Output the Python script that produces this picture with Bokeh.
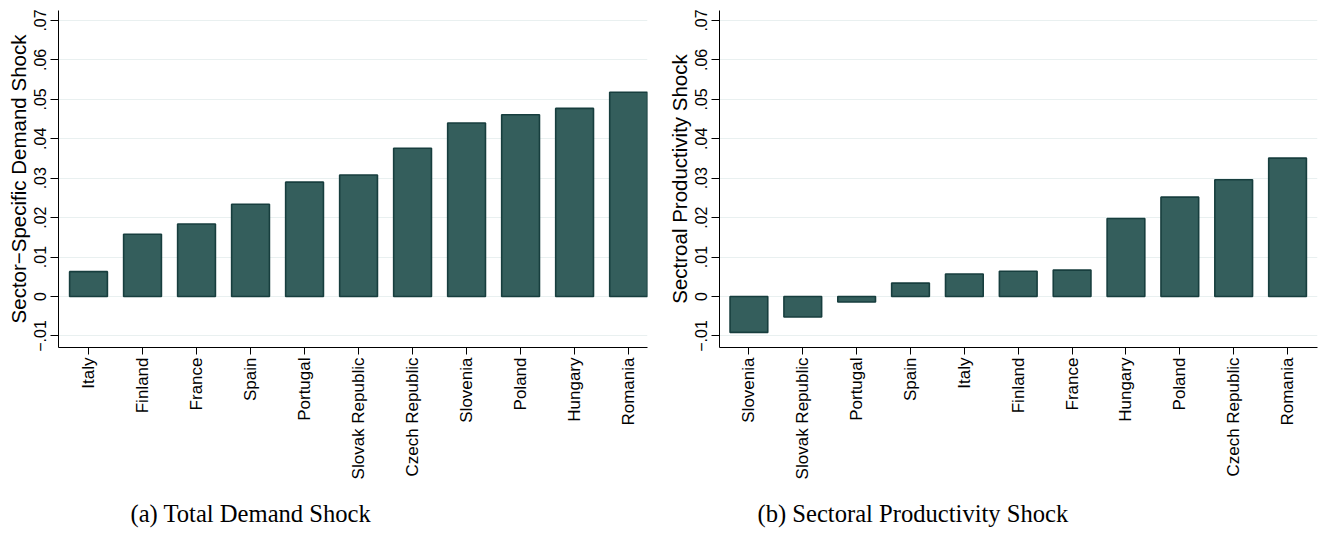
import math
from bokeh.plotting import figure
from bokeh.models import (Range1d, FixedTicker, CustomJSTickFormatter, Title,
                          ColumnDataSource)
from bokeh.layouts import row
from bokeh.embed import file_html
from bokeh.resources import INLINE

# ---- data -------------------------------------------------------------
demand_countries = ["Italy", "Finland", "France", "Spain", "Portugal",
                    "Slovak Republic", "Czech Republic", "Slovenia",
                    "Poland", "Hungary", "Romania"]
demand_values = [0.0063, 0.0158, 0.0184, 0.0234, 0.0290, 0.0308,
                 0.0376, 0.0440, 0.0461, 0.0477, 0.0518]

prod_countries = ["Slovenia", "Slovak Republic", "Portugal", "Spain",
                  "Italy", "Finland", "France", "Hungary", "Poland",
                  "Czech Republic", "Romania"]
prod_values = [-0.0091, -0.0052, -0.0014, 0.0034, 0.0057, 0.0064,
               0.0067, 0.0198, 0.0252, 0.0296, 0.0351]

y_ticks = [-0.01, 0.0, 0.01, 0.02, 0.03, 0.04, 0.05, 0.06, 0.07]

demand_ylabel = "Sector\u2212Specific Demand Shock"
prod_ylabel = "Sectroal Productivity Shock"
demand_caption = "(a) Total Demand Shock"
prod_caption = "(b) Sectoral Productivity Shock"

# ---- styles -----------------------------------------------------------
BAR_FILL = "#345e5c"
BAR_LINE = "#173e3e"
GRID = "#e9f0f0"
SANS = "Liberation Sans"
SERIF = "Liberation Serif"
UP = math.pi / 2

Y_FMT = CustomJSTickFormatter(code="""
    if (Math.abs(tick) < 1e-9) { return "0"; }
    var s = Math.abs(tick).toFixed(2).replace(/^0/, "");
    return (tick < 0 ? "\\u2212" : "") + s;
""")


def make_panel(countries, values, ylabel, caption, x_start, x_end,
               border_left, border_right, cap_offset):
    xs = list(range(len(countries)))
    src = ColumnDataSource(dict(x=xs, top=values))
    p = figure(width=664, height=542, output_backend="svg",
               toolbar_location=None,
               x_range=Range1d(x_start, x_end),
               y_range=Range1d(-0.01293, 0.07253),
               min_border_left=border_left, min_border_right=border_right,
               min_border_top=10, min_border_bottom=195)
    p.outline_line_color = None
    p.background_fill_color = "white"
    p.border_fill_color = "white"

    p.vbar(x="x", top="top", bottom=0, width=0.7, source=src,
           fill_color=BAR_FILL, line_color=BAR_LINE, line_width=1.6)

    # grid
    p.xgrid.visible = False
    p.ygrid.ticker = FixedTicker(ticks=y_ticks)
    p.ygrid.grid_line_color = GRID
    p.ygrid.grid_line_width = 1.2

    # y axis
    ya = p.yaxis[0]
    ya.ticker = FixedTicker(ticks=y_ticks)
    ya.formatter = Y_FMT
    ya.major_label_orientation = "parallel"
    ya.major_label_text_font = SANS
    ya.major_label_text_font_size = "16px"
    ya.major_label_text_color = "black"
    ya.major_label_standoff = 4
    ya.major_tick_out = 8
    ya.major_tick_in = 0
    ya.minor_tick_out = 0
    ya.minor_tick_in = 0
    ya.axis_line_color = "black"
    ya.major_tick_line_color = "black"
    ya.axis_label = ylabel
    ya.axis_label_text_font = SANS
    ya.axis_label_text_font_size = "20.5px"
    ya.axis_label_text_font_style = "normal"
    ya.axis_label_text_color = "black"
    ya.axis_label_standoff = 2

    # x axis
    xa = p.xaxis[0]
    xa.ticker = FixedTicker(ticks=xs)
    xa.formatter = CustomJSTickFormatter(
        args=dict(names=countries),
        code="var i = Math.round(tick); return (i >= 0 && i < names.length) ? names[i] : '';")
    xa.major_label_orientation = UP
    xa.major_label_text_font = SANS
    xa.major_label_text_font_size = "17px"
    xa.major_label_text_color = "black"
    xa.major_label_standoff = 3
    xa.major_tick_out = 7
    xa.major_tick_in = 0
    xa.minor_tick_out = 0
    xa.minor_tick_in = 0
    xa.axis_line_color = "black"
    xa.major_tick_line_color = "black"

    t = Title(text=caption, align="left", offset=cap_offset,
              text_font=SERIF, text_font_size="24.6px",
              text_font_style="normal", text_color="black", standoff=31)
    p.add_layout(t, "below")
    return p


p1 = make_panel(demand_countries, demand_values, demand_ylabel,
                demand_caption, -0.5556, 10.35, 58, 17, 72)
p2 = make_panel(prod_countries, prod_values, prod_ylabel,
                prod_caption, -0.546, 10.556, 52, 11, 38)

layout = row(p1, p2, spacing=0)
open("out.html", "w").write(file_html(layout, INLINE))
